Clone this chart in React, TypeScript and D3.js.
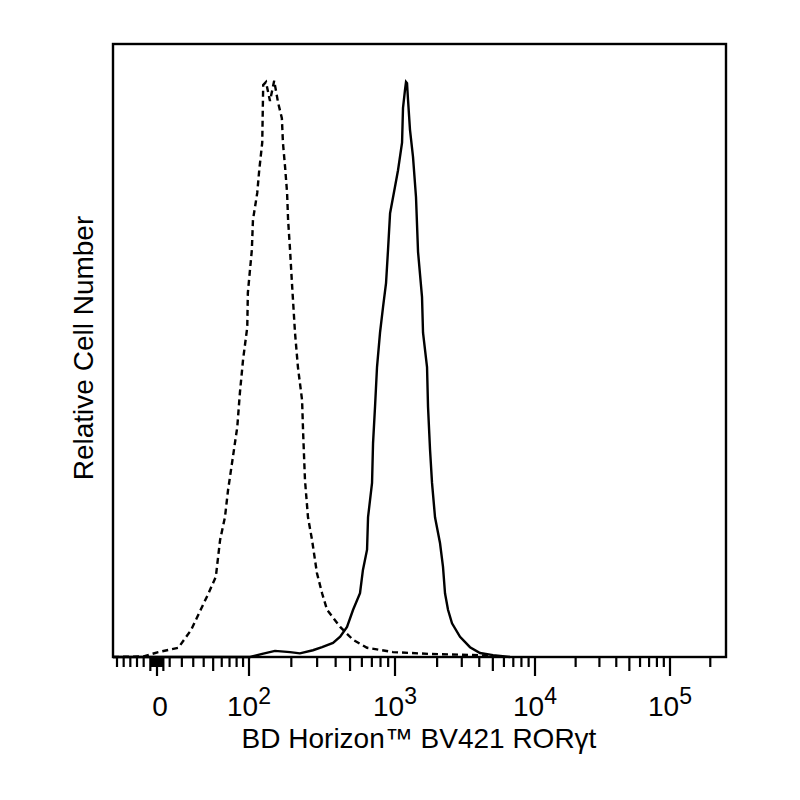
import * as d3 from 'd3';

// Axis decades and tick values (fluorescence units, biexponential display)
const MAJOR_TICKS = [0, 100, 1000, 10000, 100000];
const MEDIUM_TICKS = [-5, 5, 50, 500, 5000, 50000];
const MINOR_TICKS = [
    -30, -25, -20, -15, -10, -4, -3, -2, -1, 1, 2, 3, 4,
    10, 20, 30, 40, 60, 70, 80, 90,
    200, 300, 400, 600, 700, 800, 900,
    2000, 3000, 4000, 6000, 7000, 8000, 9000,
    20000, 30000, 40000, 60000, 70000, 80000, 90000,
    200000,
];
const TICK_LABELS = [
    { v: 0, base: '0', exp: '' },
    { v: 100, base: '10', exp: '2' },
    { v: 1000, base: '10', exp: '3' },
    { v: 10000, base: '10', exp: '4' },
    { v: 100000, base: '10', exp: '5' },
];

// Isotype control (dashed): intensity / relative count
const isoX = [-33, -10, 1, 17, 28, 37, 45, 53, 58, 64, 68, 74, 81, 85, 90, 97, 98, 105, 107, 115, 119, 125, 127, 133, 142, 152, 162, 172, 175, 181, 187, 190, 196, 202, 212, 222, 237, 241, 248, 260, 277, 299, 324, 350, 429, 524, 650, 970, 1780, 4049, 5628];
const isoY = [0, 0.1, 0.8, 1.5, 4.4, 7.7, 10.4, 13.1, 19.1, 22.8, 27.2, 32.1, 37.5, 43.1, 48.5, 53.8, 59.4, 66.4, 71.3, 75.7, 79.5, 83.9, 93.3, 93.8, 90.7, 94.0, 90.4, 87.9, 83.9, 80.0, 75.7, 71.3, 66.4, 61.0, 52.9, 47.3, 41.9, 36.5, 28.9, 22.8, 19.1, 13.7, 10.4, 7.7, 4.9, 2.8, 1.5, 0.8, 0.5, 0.3, 0];

// RORγt stained (solid)
const rorX = [-33, 102, 125, 154, 196, 229, 281, 324, 384, 429, 477, 524, 583, 610, 650, 660, 702, 713, 735, 758, 794, 832, 871, 898, 927, 1000, 1051, 1123, 1141, 1179, 1199, 1219, 1239, 1280, 1345, 1413, 1461, 1560, 1586, 1694, 1722, 1780, 1839, 1932, 2097, 2203, 2277, 2392, 2555, 2915, 3435, 4049, 5015, 6632];
const rorY = [0, 0, 0.5, 1.0, 0.8, 0.6, 1.1, 1.6, 2.3, 3.3, 4.9, 7.7, 10.4, 14.2, 17.5, 22.8, 28.4, 34.9, 40.8, 47.3, 52.9, 57.1, 61.0, 66.4, 72.4, 76.7, 79.4, 83.9, 89.6, 92.5, 93.8, 93.6, 90.9, 86.0, 81.6, 75.0, 66.1, 58.7, 52.9, 47.3, 40.8, 33.8, 28.4, 22.8, 18.6, 14.7, 10.4, 7.7, 5.5, 3.3, 1.6, 0.65, 0.3, 0];

const WIDTH = 800;
const HEIGHT = 800;
const BOX = { left: 113, top: 44, right: 726, bottom: 657 };
const FONT = '"Liberation Sans", Arial, sans-serif';

// biexponential-like transform: linear below zero, asinh above
const biex = (v: number) => (v >= 0 ? Math.asinh(v / 50) / Math.LN10 : v / (50 * Math.LN10));

const X_ANCHORS = [-33, 0, 100, 1000, 10000, 100000, 262144];
const X_PIXELS = [BOX.left, 157, 249, 395, 535, 670, BOX.right];

export default function App() {
    const xScale = d3.scaleLinear().domain(X_ANCHORS.map(biex)).range(X_PIXELS);
    const x = (v: number) => xScale(biex(v));
    const y = d3.scaleLinear().domain([0, 100]).range([BOX.bottom, BOX.top]);

    const line = d3
        .line<[number, number]>()
        .x((d) => x(d[0]))
        .y((d) => y(d[1]));

    const isoPath = line(isoX.map((v, i) => [v, isoY[i]]));
    const rorPath = line(rorX.map((v, i) => [v, rorY[i]]));

    const tick = (v: number, len: number, key: string) => (
        <line key={key} x1={x(v)} x2={x(v)} y1={BOX.bottom} y2={BOX.bottom + len} stroke="#000" strokeWidth={2.2} />
    );

    return (
        <svg width={WIDTH} height={HEIGHT} style={{ position: 'absolute', left: 0, top: 0, background: '#fff' }}>
            <rect x={0} y={0} width={WIDTH} height={HEIGHT} fill="#fff" />
            <path d={isoPath ?? ''} fill="none" stroke="#000" strokeWidth={2.4} strokeDasharray="6,4" />
            <path d={rorPath ?? ''} fill="none" stroke="#000" strokeWidth={2.4} />
            <rect
                x={BOX.left}
                y={BOX.top}
                width={BOX.right - BOX.left}
                height={BOX.bottom - BOX.top}
                fill="none"
                stroke="#000"
                strokeWidth={2.4}
            />
            {MINOR_TICKS.map((v) => tick(v, 10, 'mi' + v))}
            {MEDIUM_TICKS.map((v) => tick(v, 14, 'me' + v))}
            {MAJOR_TICKS.map((v) => tick(v, 19, 'ma' + v))}
            {TICK_LABELS.map((t) => (
                <text key={t.v} x={x(t.v) + (t.exp ? 0 : 3)} y={716} textAnchor="middle" fontFamily={FONT} fontSize={28}>
                    {t.base}
                    {t.exp && (
                        <tspan dy={-12} fontSize={23}>
                            {t.exp}
                        </tspan>
                    )}
                </text>
            ))}
            <text x={419} y={748} textAnchor="middle" fontFamily={FONT} fontSize={28}>
                BD Horizon™ BV421 RORγt
            </text>
            <text
                transform={`translate(93, 348) rotate(-90)`}
                textAnchor="middle"
                fontFamily={FONT}
                fontSize={28}
            >
                Relative Cell Number
            </text>
        </svg>
    );
}
